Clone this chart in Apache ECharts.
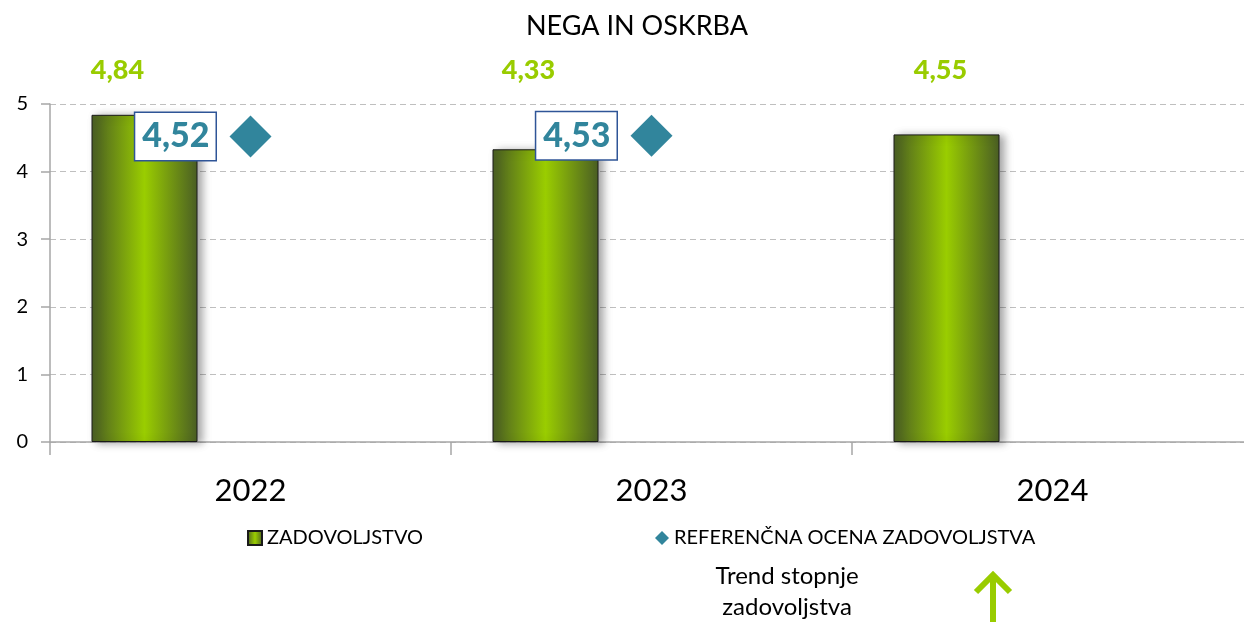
<!DOCTYPE html>
<html>
<head>
<meta charset="utf-8">
<script src="https://cdn.jsdelivr.net/npm/echarts@6/dist/echarts.min.js"></script>
<style>
  html, body { margin: 0; padding: 0; background: #ffffff; overflow: hidden; }
  #chart { width: 1260px; height: 623px; }
</style>
</head>
<body>
<div id="chart"></div>
<script>
// Survey results: nursing and care satisfaction by year
const years = ['2022', '2023', '2024'];
const satisfaction = [4.84, 4.33, 4.55];
const reference = [4.52, 4.53, null];
const yTicks = [0, 1, 2, 3, 4, 5];

const FONT = 'Lato, "Open Sans", sans-serif';
const GREEN = '#99CC00';
const TEAL = '#31859C';

const fmt = v => v.toFixed(2).replace('.', ',');

// horizontal offsets for the value labels above each bar
const labelShiftX = [-27, -17, -6];
const labelRowY = 70;

const barFill = new echarts.graphic.LinearGradient(0, 0, 1, 0, [
  { offset: 0, color: '#4A5E24' },
  { offset: 0.5, color: '#9ACD00' },
  { offset: 1, color: '#4A5E24' }
]);

const chart = echarts.init(document.getElementById('chart'), null, { renderer: 'canvas' });

function buildOption(barLabelOffsets) {
  return {
    animation: false,
    backgroundColor: '#ffffff',
    title: {
      text: 'NEGA IN OSKRBA',
      left: 632, top: 21,
      textAlign: 'center', textVerticalAlign: 'middle',
      textStyle: { fontFamily: FONT, fontSize: 27, fontWeight: 'normal', color: '#000000' }
    },
    legend: [
      {
        data: [{ name: 'ZADOVOLJSTVO', icon: 'rect' }],
        left: 242, top: 523,
        itemWidth: 14, itemHeight: 14,
        textStyle: { fontFamily: FONT, fontSize: 20, color: '#000000' }
      },
      {
        data: [{ name: 'REFERENČNA OCENA ZADOVOLJSTVA', icon: 'diamond' }],
        left: 650, top: 523,
        itemWidth: 14, itemHeight: 14,
        textStyle: { fontFamily: FONT, fontSize: 20, color: '#000000' }
      }
    ],
    grid: { left: 50, top: 104, width: 1203, height: 338, containLabel: false },
    xAxis: {
      type: 'category',
      data: years,
      boundaryGap: true,
      axisLine: { show: true, lineStyle: { color: '#A6A6A6', width: 1.5 } },
      axisTick: { show: true, length: 13, interval: 0, lineStyle: { color: '#A6A6A6', width: 1.5 } },
      axisLabel: { fontFamily: FONT, fontSize: 31, color: '#000000', margin: 33 }
    },
    yAxis: {
      type: 'value',
      min: yTicks[0],
      max: yTicks[yTicks.length - 1],
      interval: 1,
      axisLine: { show: true, lineStyle: { color: '#A6A6A6', width: 1.5 } },
      axisTick: { show: true, length: 9, lineStyle: { color: '#A6A6A6', width: 1.5 } },
      axisLabel: { fontFamily: FONT, fontSize: 20, color: '#000000', margin: 22 },
      splitLine: { show: true, lineStyle: { color: '#BFBFBF', type: [6, 4], width: 1 } }
    },
    series: [
      {
        name: 'ZADOVOLJSTVO',
        type: 'bar',
        data: satisfaction.map((v, i) => ({
          value: v,
          label: { offset: barLabelOffsets ? barLabelOffsets[i] : [0, 0] }
        })),
        barWidth: 106,
        barGap: '100%',
        itemStyle: {
          color: barFill,
          borderColor: '#1A1A1A',
          borderWidth: 1,
          shadowColor: 'rgba(0,0,0,0.35)',
          shadowBlur: 8,
          shadowOffsetX: 5,
          shadowOffsetY: 1
        },
        label: {
          show: true,
          position: 'top',
          distance: 0,
          verticalAlign: 'middle',
          formatter: p => fmt(p.value),
          fontFamily: FONT,
          fontSize: 27,
          fontWeight: 900,
          color: GREEN
        }
      },
      {
        // empty companion slot so bars sit left of each category centre
        name: '_slot',
        type: 'bar',
        data: years.map(() => null),
        barWidth: 106,
        silent: true
      },
      {
        name: 'REFERENČNA OCENA ZADOVOLJSTVA',
        type: 'scatter',
        data: reference,
        symbol: 'diamond',
        symbolSize: 42,
        itemStyle: { color: TEAL, opacity: 1 },
        z: 5,
        label: {
          show: true,
          position: 'left',
          distance: 14,
          formatter: p => fmt(p.value),
          fontFamily: FONT,
          fontSize: 34,
          fontWeight: 900,
          color: TEAL,
          backgroundColor: '#ffffff',
          borderColor: '#2F5597',
          borderWidth: 1.5,
          padding: [7, 6, 6, 7]
        }
      }
    ]
  };
}

chart.setOption(buildOption(null));

// Place the value labels on a common row above the plot, measured through the axis scale
const offsets = satisfaction.map((v, i) => {
  const top = chart.convertToPixel({ seriesIndex: 0 }, [i, v])[1];
  return [labelShiftX[i], labelRowY - top];
});

const opt = buildOption(offsets);
opt.graphic = [
  {
    type: 'text', silent: true, x: 787, y: 576,
    style: { text: 'Trend stopnje', align: 'center', verticalAlign: 'middle', fontFamily: FONT, fontSize: 24, fill: '#000000' }
  },
  {
    type: 'text', silent: true, x: 787, y: 607,
    style: { text: 'zadovoljstva', align: 'center', verticalAlign: 'middle', fontFamily: FONT, fontSize: 24, fill: '#000000' }
  },
  {
    type: 'polyline', silent: true,
    shape: { points: [[993, 622], [993, 575]] },
    style: { stroke: GREEN, lineWidth: 6, fill: null }
  },
  {
    type: 'polyline', silent: true,
    shape: { points: [[976, 592], [993, 575], [1010, 592]] },
    style: { stroke: GREEN, lineWidth: 6, fill: null, lineCap: 'butt', lineJoin: 'miter' }
  }
];
chart.setOption(opt, true);
</script>
</body>
</html>
